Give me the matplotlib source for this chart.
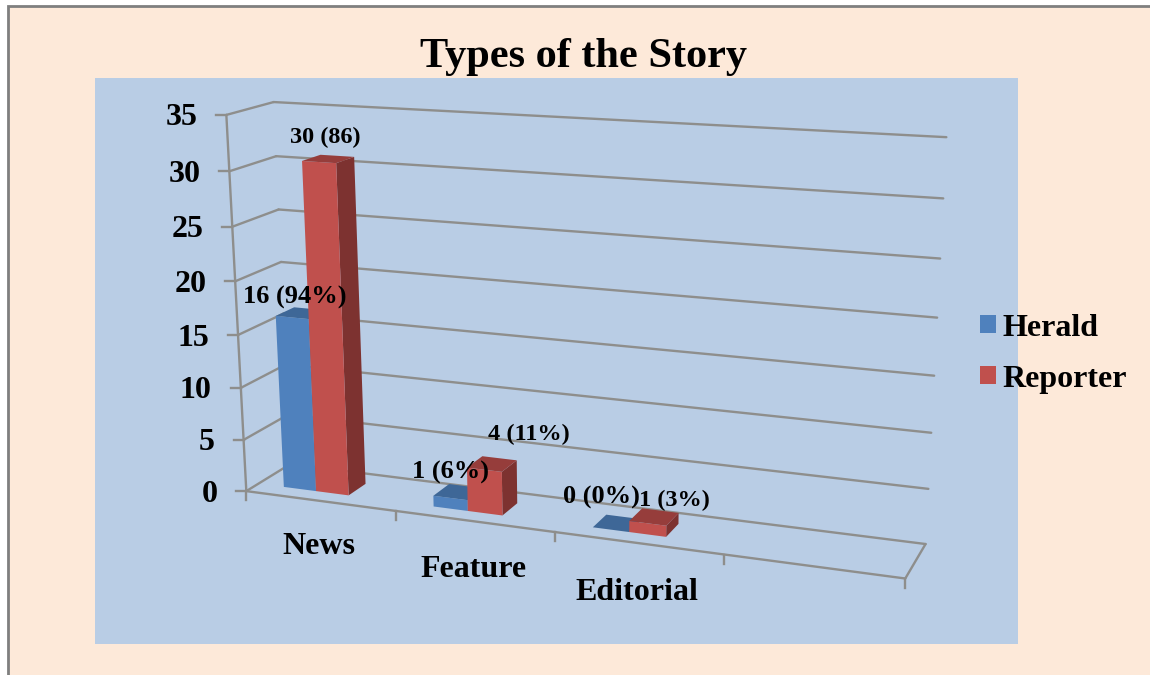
import numpy as np
import matplotlib

matplotlib.use("Agg")

import matplotlib.pyplot as plt
from matplotlib.patches import Polygon, Rectangle, Patch

plt.rcParams["font.family"] = ["Liberation Serif", "DejaVu Serif"]

categories = ["News", "Feature", "Editorial"]
herald = [16, 1, 0]
reporter = [30, 4, 1]
herald_labels = ["16 (94%)", "1 (6%)", "0 (0%)"]
reporter_labels = ["30 (86)", "4 (11%)", "1 (3%)"]
y_ticks = [0, 5, 10, 15, 20, 25, 30, 35]

BG = "#FDE9D9"
PANEL = "#B9CDE5"
GRID = "#8E8E8C"
BLUE = ("#4F81BD", "#3E6797", "#345680")  # front, top, side
RED = ("#C0504D", "#963D3B", "#7D3230")

# box corners (category slot, value, depth) and where they land in the picture
anchors = [
    ((0, 0, 0), (246, 491)),
    ((1, 0, 0), (395, 511)),
    ((2, 0, 0), (555, 532)),
    ((3, 0, 0), (725, 555)),
    ((4, 0, 0), (905, 578)),
    ((4, 0, 1), (925, 544)),
    ((0, 0, 1), (291, 464)),
    ((0, 35, 0), (227, 115)),
    ((0, 35, 1), (273, 102)),
    ((4, 35, 1), (946, 137)),
    ((4, 15, 1), (935, 376)),
]


def fit_camera(points):  # plain DLT, gives the perspective matrix
    rows = []
    for (a, b, c), (px, py) in points:
        rows.append([a, b, c, 1, 0, 0, 0, 0, -px * a, -px * b, -px * c, -px])
        rows.append([0, 0, 0, 0, a, b, c, 1, -py * a, -py * b, -py * c, -py])
    return np.linalg.svd(np.array(rows, dtype=float))[2][-1].reshape(3, 4)


CAM = fit_camera(anchors)


def proj(slot, value, depth):
    p = CAM @ np.array([slot, value, depth, 1.0])
    return p[0] / p[2], p[1] / p[2]


def line3d(ax, a, b, **kw):
    pa, pb = proj(*a), proj(*b)
    ax.plot([pa[0], pb[0]], [pa[1], pb[1]], color=GRID, lw=1.7, solid_capstyle="round", **kw)


def bar3d(ax, left, width, value, colors, d0=0.27, d1=0.68):
    value = value * 1.03  # bars come out a bit taller than the walls in the original
    right = left + width
    front = [proj(left, 0, d0), proj(right, 0, d0), proj(right, value, d0), proj(left, value, d0)]
    top = [proj(left, value, d0), proj(right, value, d0), proj(right, value, d1), proj(left, value, d1)]
    side = [proj(right, 0, d0), proj(right, 0, d1), proj(right, value, d1), proj(right, value, d0)]
    ax.add_patch(Polygon(side, fc=colors[2], ec="none", zorder=3))
    ax.add_patch(Polygon(front, fc=colors[0], ec="none", zorder=3))
    ax.add_patch(Polygon(top, fc=colors[1], ec="none", zorder=3))


fig = plt.figure(figsize=(11.5, 6.75), dpi=100, facecolor="white")
ax = fig.add_axes([0, 0, 1, 1])
ax.set_xlim(0, 1150)
ax.set_ylim(675, 0)
ax.axis("off")

# chart background and border
ax.add_patch(Rectangle((8, 6), 1150, 680, fc=BG, ec="#7F7F7F", lw=2, zorder=0))
ax.add_patch(Rectangle((95, 78), 923, 566, fc=PANEL, ec="none", zorder=1))

# walls and floor
for v in y_ticks:
    line3d(ax, (0, v, 0), (0, v, 1), zorder=2)
    line3d(ax, (0, v, 1), (4, v, 1), zorder=2)
    x, y = proj(0, v, 0)
    ax.plot([x - 10, x], [y, y], color=GRID, lw=1.7, zorder=2)
    ax.text(x - 29, y + 3, str(v), ha="right", va="center", fontsize=23, fontweight="bold", zorder=6)
line3d(ax, (0, 0, 0), (0, 35, 0), zorder=2)
line3d(ax, (0, 0, 0), (4, 0, 0), zorder=2)
line3d(ax, (4, 0, 0), (4, 0, 1), zorder=2)
for i in range(5):
    x, y = proj(i, 0, 0)
    ax.plot([x, x], [y, y + 9], color=GRID, lw=1.7, zorder=2)

# hand nudges so the data labels sit where the original put them
herald_nudge = [(-5, 6), (-7, 2), (-15, -5)]
reporter_nudge = [(-2, 0), (38, -8), (21, 5)]
cat_nudge = [46, 48, 49]

# bars, left to right so nearer faces cover the others
bar_w = 0.22
bar_start = 0.175
for i in range(len(categories)):
    bar3d(ax, i + bar_start, bar_w, herald[i], BLUE)
    bar3d(ax, i + bar_start + bar_w, bar_w, reporter[i], RED)

    x, y = proj(i + 0.5, 0, 0)
    ax.text(x - 1, y + cat_nudge[i], categories[i], ha="center", va="center", fontsize=23, fontweight="bold", zorder=6)

    x, y = proj(i + bar_start + 0.11, herald[i] * 1.03, 0.45)
    ax.text(x + herald_nudge[i][0], y - 22 + herald_nudge[i][1], herald_labels[i], ha="center", va="center",
            fontsize=19, fontweight="bold", zorder=6)
    x, y = proj(i + bar_start + 0.33, reporter[i] * 1.03, 0.45)
    ax.text(x + reporter_nudge[i][0], y - 22 + reporter_nudge[i][1], reporter_labels[i], ha="center", va="center",
            fontsize=17.5, fontweight="bold", zorder=6)

ax.text(583, 57, "Types of the Story", ha="center", va="center", fontsize=30.5, fontweight="bold", zorder=6)

handles = [Patch(fc=BLUE[0], ec="none"), Patch(fc=RED[0], ec="none")]
leg = ax.legend(handles, ["Herald", "Reporter"], loc="upper left", bbox_to_anchor=(0.8518, 0.5354),
                frameon=False, prop={"size": 23, "weight": "bold"}, handlelength=0.5, handleheight=0.5,
                handletextpad=0.22, labelspacing=0.69, borderpad=0, borderaxespad=0)
leg.set_zorder(6)

fig.savefig("out.png", dpi=100, facecolor=fig.get_facecolor())
